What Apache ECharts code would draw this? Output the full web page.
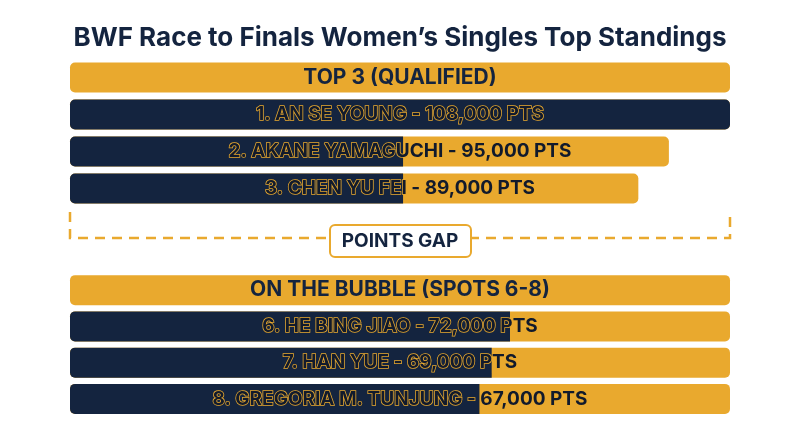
<!DOCTYPE html>
<html><head><meta charset="utf-8">
<script src="https://cdn.jsdelivr.net/npm/echarts@6/dist/echarts.min.js"></script>
<style>html,body{margin:0;padding:0;background:#fff}#c{width:800px;height:447px}</style>
</head><body><div id="c"></div>
<script>
const topHeader = 'TOP 3 (QUALIFIED)';
const bottomHeader = 'ON THE BUBBLE (SPOTS 6-8)';
const topPlayers = ['1. AN SE YOUNG - 108,000 PTS','2. AKANE YAMAGUCHI - 95,000 PTS','3. CHEN YU FEI - 89,000 PTS'];
const topNavy = [108000, 54500, 54500];
const topGold = [108000, 98000, 93000];
const bottomPlayers = ['6. HE BING JIAO - 72,000 PTS','7. HAN YUE - 69,000 PTS','8. GREGORIA M. TUNJUNG - 67,000 PTS'];
const bottomNavy = [72000, 69000, 67000];
const bottomGold = [108000, 108000, 108000];
const maxPts = 108000;

const NAVY = '#14243f', GOLD = '#e9a92e';
const FONT = 'Inter';
const cats = ['h','p1','p2','p3'];
function sectionSeries(idx, header, names, navy, gold){
  const gArr = [maxPts].concat(gold);
  const nArr = [0].concat(navy).map(v=>({value:v, itemStyle:{borderRadius: v>=maxPts?5:[5,0,0,5]}}));
  const labels = [header].concat(names);
  return [
    {type:'bar', xAxisIndex:idx, yAxisIndex:idx, barWidth:30, barGap:'-100%', silent:true,
     data:gArr, itemStyle:{color:GOLD, borderRadius:5}},
    {type:'bar', xAxisIndex:idx, yAxisIndex:idx, barWidth:30, barGap:'-100%', silent:true,
     data:nArr, itemStyle:{color:NAVY}},
    {type:'bar', xAxisIndex:idx, yAxisIndex:idx, barWidth:30, barGap:'-100%', silent:true,
     data:labels.map((t,i)=>({value:maxPts, label:i===0?
       {show:true, position:'inside', formatter:t, color:NAVY, fontSize:21, fontWeight:'bold', fontFamily:FONT}:
       {show:true, position:'inside', formatter:t, color:'#111a2c', fontSize:19, fontWeight:'bold', fontFamily:FONT, textBorderColor:GOLD, textBorderWidth:1.5}})),
     itemStyle:{color:'rgba(0,0,0,0)'}}
  ];
}
const chart = echarts.init(document.getElementById('c'));
chart.setOption({
  animation:false,
  title:{text:'BWF Race to Finals Women’s Singles Top Standings', left:'center', top:20,
    textStyle:{color:NAVY, fontSize:26, fontWeight:'bold', fontFamily:FONT}},
  grid:[{left:70,right:70,top:59,height:148},{left:70,right:70,top:272,height:145}],
  xAxis:[0,1].map(i=>({type:'value', gridIndex:i, min:0, max:maxPts, show:false})),
  yAxis:[0,1].map(i=>({type:'category', gridIndex:i, data:cats, inverse:true, show:false})),
  series:[].concat(sectionSeries(0, topHeader, topPlayers, topNavy, topGold),
                   sectionSeries(1, bottomHeader, bottomPlayers, bottomNavy, bottomGold)),
  graphic:[
    {type:'polyline', shape:{points:[[70,212],[70,238],[730,238],[730,212]]},
     style:{stroke:GOLD, lineWidth:2.5, lineDash:[10,7], fill:null}},
    {type:'rect', shape:{x:330,y:225,width:141,height:32,r:5}, style:{fill:'#fff', stroke:GOLD, lineWidth:2}},
    {type:'text', x:400, y:241, style:{text:'POINTS GAP', fill:NAVY, font:'bold 19px Inter', align:'center', verticalAlign:'middle'}}
  ]
});
</script></body></html>
